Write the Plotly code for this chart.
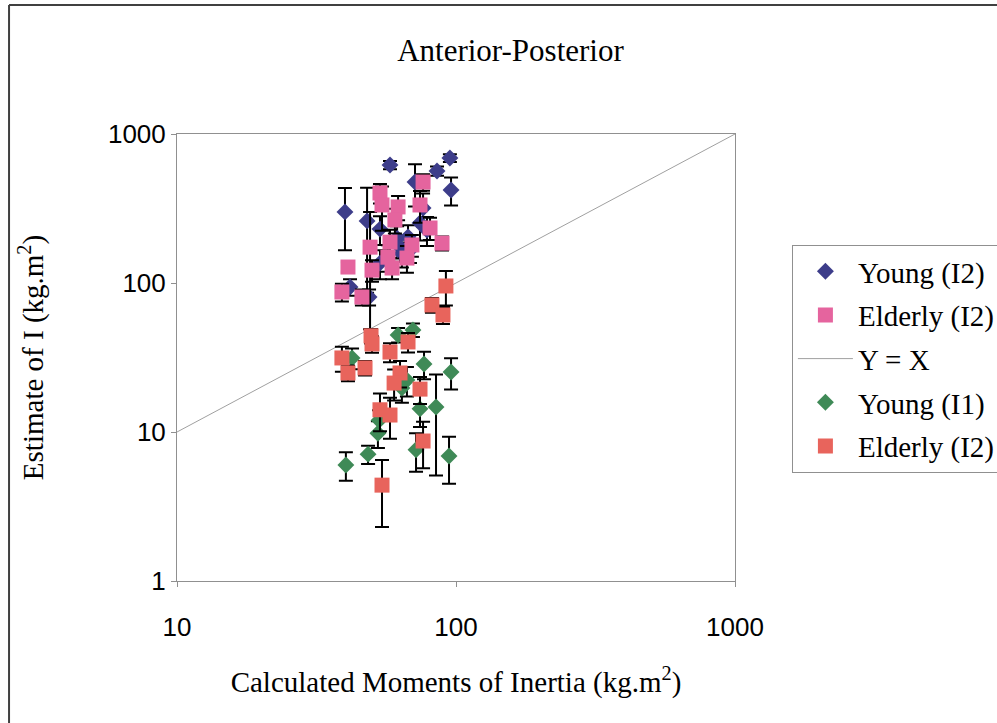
import plotly.graph_objects as go

# ---- data ----
young_i2_x = [58.0, 95.1, 85.5, 71.3, 96.0, 40.0, 48.0, 53.4, 61.5, 74.3, 76.2, 63.0, 68.4, 53.4, 64.0, 41.7, 48.8, 67.3, 78.7]
young_i2_y = [620, 690, 565, 476, 421, 300, 261, 230, 200, 253, 319, 174, 166, 136, 157, 94, 80.5, 204, 227]
young_i2_err = [40, 40, 40, 150, 90, 134, 175, 50, 40, 60, 80, 35, 30, 30, 30, 12, 10, 40, 50]

elderly_i2_x = [76.2, 53.4, 54.3, 62.0, 74.3, 60.4, 49.2, 58.0, 69.5, 80.7, 89.1, 66.7, 57.0, 59.0, 50.0, 41.0, 39.0, 46.0]
elderly_i2_y = [476, 402, 334, 324, 334, 265, 174, 188, 180, 234, 185, 147, 149, 126, 122, 128, 87, 80.5]
elderly_i2_err = [60, 60, 110, 60, 80, 50, 125, 40, 30, 40, 20, 30, 30, 20, 20, 10, 12, 10]

line_x = [10, 1000]
line_y = [10, 1000]

young_i1_x = [40.3, 48.4, 52.5, 53.0, 71.9, 74.3, 84.8, 94.4, 76.8, 96.0, 66.7, 64.0, 42.4, 62.0, 70.1]
young_i1_y = [6.0, 7.1, 9.8, 12.0, 7.6, 14.3, 14.7, 6.9, 28.6, 25.3, 22.3, 19.7, 31.4, 44.8, 48.4]
young_i1_err = [1.3, 1.0, 2.0, 2.0, 2.2, 3.5, 9.6, 2.4, 6.0, 6.0, 5, 4, 5, 5, 5]

elderly_b_x = [92.0, 82.0, 89.8, 49.6, 50.0, 39.0, 41.0, 47.2, 58.0, 67.3, 63.0, 60.0, 74.3, 53.4, 58.0, 76.2, 54.3]
elderly_b_y = [95.5, 71.2, 61.0, 44.2, 39.0, 31.4, 24.9, 26.9, 34.4, 40.2, 24.9, 21.3, 19.4, 14.1, 13.0, 8.7, 4.4]
elderly_b_err = [25, 8, 8, 5, 5, 6, 3, 3, 5, 6, 5, 5, 4, 4, 4, 3, 2.1]

tick_vals = [1, 10, 100, 1000]
tick_text = ["1", "10", "100", "1000"]

SERIF = "Liberation Serif, Times New Roman, serif"
SANS = "Liberation Sans, Arial, sans-serif"

def err(arr):
    return dict(type="data", array=arr, visible=True, color="black", thickness=2, width=7)

fig = go.Figure()
fig.add_trace(go.Scatter(x=young_i2_x, y=young_i2_y, mode="markers", name="Young (I2)",
                         legendgroup="a",
                         marker=dict(symbol="diamond", size=13, color="#3D3D8A"),
                         error_y=err(young_i2_err)))
fig.add_trace(go.Scatter(x=elderly_i2_x, y=elderly_i2_y, mode="markers", name="Elderly (I2)",
                         legendgroup="b",
                         marker=dict(symbol="square", size=15, color="#E5649E"),
                         error_y=err(elderly_i2_err)))
fig.add_trace(go.Scatter(x=line_x, y=line_y, mode="lines", name="Y = X",
                         legendgroup="c",
                         line=dict(color="#A0A0A0", width=1)))
fig.add_trace(go.Scatter(x=young_i1_x, y=young_i1_y, mode="markers", name="Young (I1)",
                         legendgroup="d",
                         marker=dict(symbol="diamond", size=13, color="#3F8A57"),
                         error_y=err(young_i1_err)))
fig.add_trace(go.Scatter(x=elderly_b_x, y=elderly_b_y, mode="markers", name="Elderly (I2)",
                         legendgroup="e",
                         marker=dict(symbol="square", size=15, color="#E8645C"),
                         error_y=err(elderly_b_err)))

axis_common = dict(type="log", showgrid=False, zeroline=False, showline=True,
                   linecolor="#909090", linewidth=1, mirror=True,
                   ticks="outside", ticklen=5, tickcolor="#909090",
                   tickvals=tick_vals, ticktext=tick_text,
                   tickfont=dict(family=SANS, size=26, color="black"))

fig.update_layout(
    width=997, height=723,
    margin=dict(l=177, r=262, t=134, b=142, autoexpand=False),
    paper_bgcolor="white", plot_bgcolor="white",
    showlegend=True,
    title=dict(text="Anterior-Posterior", x=0.512, xanchor="center", y=0.93, yanchor="middle",
               font=dict(family=SERIF, size=31, color="black")),
    xaxis=dict(range=[1, 3], title=dict(text="Calculated Moments of Inertia (kg.m<sup>2</sup>)",
                                         font=dict(family=SERIF, size=29, color="black"), standoff=30),
               ticklabelstandoff=18, **axis_common),
    yaxis=dict(range=[0, 3], title=dict(text="Estimate of I (kg.m<sup>2</sup>)",
                                         font=dict(family=SERIF, size=29, color="black"), standoff=55),
               **axis_common),
    legend=dict(x=1.102, y=0.752, xanchor="left", yanchor="top",
                bordercolor="#909090", borderwidth=1, bgcolor="white",
                font=dict(family=SERIF, size=29, color="black"),
                itemwidth=55,
                traceorder="grouped", tracegroupgap=3),
)

# outer chart frame
fig.add_shape(type="line", xref="paper", yref="paper", x0=-0.301, x1=1.5, y0=1.2886, y1=1.2886,
              line=dict(color="#404040", width=2))
fig.add_shape(type="line", xref="paper", yref="paper", x0=-0.301, x1=-0.301, y0=1.2886, y1=-0.33,
              line=dict(color="#404040", width=2))

fig.write_html("out.html")
